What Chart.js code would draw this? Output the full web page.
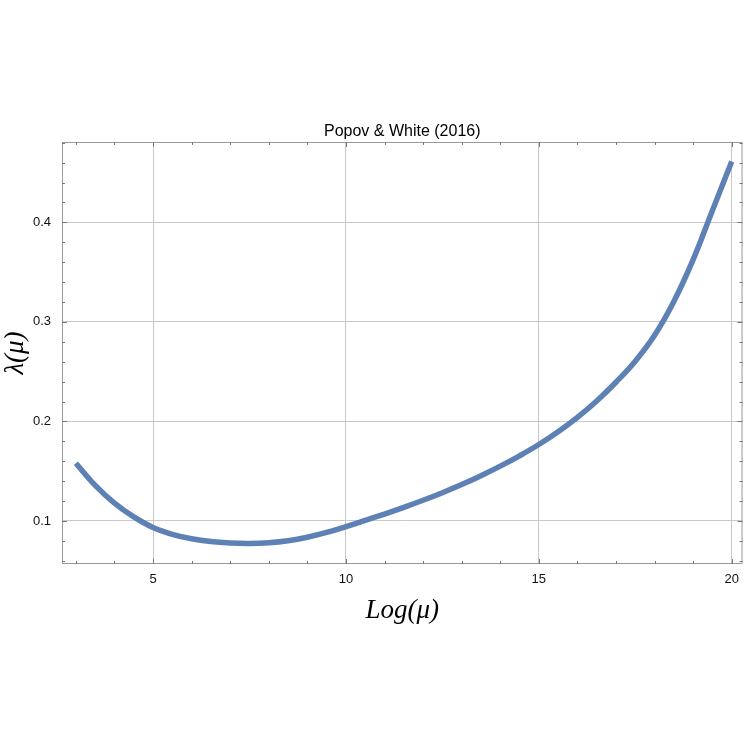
<!DOCTYPE html>
<html>
<head>
<meta charset="utf-8">
<script src="https://cdn.jsdelivr.net/npm/chart.js@4.4.1/dist/chart.umd.min.js"></script>
<style>
  html, body { margin: 0; padding: 0; background: #fff; }
  #wrap { width: 747px; height: 747px; }
</style>
</head>
<body>
<div id="wrap"><canvas id="chart"></canvas></div>
<script>
// values
const logMu = [3, 3.5, 4, 4.5, 5, 5.5, 6, 6.5, 7, 7.5, 8, 8.5, 9, 9.5, 10, 10.5, 11, 11.5, 12, 12.5,
    13, 13.5, 14, 14.5, 15, 15.5, 16, 16.5, 17, 17.5, 18, 18.5, 19, 19.5, 20];
const lambdaMu = [0.158, 0.1358, 0.1180, 0.1042, 0.0935, 0.0866, 0.0821, 0.0793, 0.0779, 0.0775,
    0.0782, 0.0802, 0.0837, 0.0885, 0.0943, 0.1006, 0.1070, 0.1137, 0.1208, 0.1284,
    0.1366, 0.1455, 0.1551, 0.1655, 0.1768, 0.1896, 0.2041, 0.2206, 0.2394, 0.2605,
    0.2865, 0.3205, 0.3625, 0.4120, 0.4610];
const xTicks = [5, 10, 15, 20];
const yTicks = [0.1, 0.2, 0.3, 0.4];
const xMinorTicks = [3, 4, 6, 7, 8, 9, 11, 12, 13, 14, 16, 17, 18, 19];
const yMinorTicks = [0.06, 0.08, 0.12, 0.14, 0.16, 0.18, 0.22, 0.24, 0.26, 0.28, 0.32, 0.34, 0.36, 0.38, 0.42, 0.44, 0.46, 0.48];
const chartTitle = 'Popov & White (2016)';

const X_MIN = 2.64, X_MAX = 20.28;
const Y_MIN = 0.0568, Y_MAX = 0.4807;

// frame around the plot with inward ticks on all four sides, title centred over the plot area
const framePlugin = {
    id: 'frame',
    afterDraw(chart) {
        const { ctx, chartArea: a, scales: { x, y } } = chart;
        ctx.save();
        ctx.strokeStyle = '#999';
        ctx.lineWidth = 1;
        ctx.strokeRect(a.left + 0.5, a.top + 0.5, a.right - a.left - 1, a.bottom - a.top - 1);
        ctx.strokeStyle = '#777';
        const tick = (v, len, horiz) => {
            ctx.beginPath();
            if (horiz) {
                const px = Math.round(x.getPixelForValue(v)) + 0.5;
                ctx.moveTo(px, a.bottom); ctx.lineTo(px, a.bottom - len);
                ctx.moveTo(px, a.top); ctx.lineTo(px, a.top + len);
            } else {
                const py = Math.round(y.getPixelForValue(v)) + 0.5;
                ctx.moveTo(a.left, py); ctx.lineTo(a.left + len, py);
                ctx.moveTo(a.right, py); ctx.lineTo(a.right - len, py);
            }
            ctx.stroke();
        };
        xTicks.forEach(v => tick(v, 5, true));
        xMinorTicks.forEach(v => tick(v, 3, true));
        yTicks.forEach(v => tick(v, 5, false));
        yMinorTicks.forEach(v => tick(v, 3, false));

        ctx.fillStyle = '#000';
        ctx.font = '16px "Liberation Sans"';
        ctx.textAlign = 'center';
        ctx.textBaseline = 'middle';
        ctx.fillText(chartTitle, (a.left + a.right) / 2, a.top - 10);
        ctx.restore();
    }
};

const points = logMu.map((v, i) => ({ x: v, y: lambdaMu[i] }));

new Chart(document.getElementById('chart'), {
    type: 'line',
    data: {
        datasets: [{
            data: points,
            borderColor: '#5e81b5',
            borderWidth: 5.5,
            borderCapStyle: 'butt',
            pointRadius: 0,
            tension: 0.4,
            fill: false
        }]
    },
    options: {
        responsive: true,
        maintainAspectRatio: false,
        animation: false,
        layout: { padding: { top: 142, left: 0, right: 3, bottom: 119.8 } },
        plugins: {
            legend: { display: false },
            tooltip: { enabled: false },
            title: { display: false }
        },
        scales: {
            x: {
                type: 'linear',
                min: X_MIN,
                max: X_MAX,
                afterBuildTicks: (scale) => { scale.ticks = xTicks.map(v => ({ value: v })); },
                afterFit: (scale) => { scale.height = 63.2; },
                border: { display: false },
                grid: { color: '#c8c8c8', lineWidth: 1, drawTicks: false },
                ticks: {
                    color: '#111',
                    padding: 8,
                    maxRotation: 0,
                    font: { family: 'Liberation Sans', size: 13 },
                    callback: (v) => String(v)
                },
                title: {
                    display: true,
                    text: 'Log(μ)',
                    color: '#000',
                    padding: 0,
                    font: { family: 'Liberation Serif', size: 27, style: 'italic' }
                }
            },
            y: {
                type: 'linear',
                min: Y_MIN,
                max: Y_MAX,
                afterBuildTicks: (scale) => { scale.ticks = yTicks.map(v => ({ value: v })); },
                afterFit: (scale) => { scale.width = 62; },
                border: { display: false },
                grid: { color: '#c8c8c8', lineWidth: 1, drawTicks: false },
                ticks: {
                    color: '#111',
                    padding: 11,
                    font: { family: 'Liberation Sans', size: 13 },
                    callback: (v) => String(Math.round(v * 10) / 10)
                },
                title: {
                    display: true,
                    text: 'λ(μ)',
                    color: '#000',
                    padding: 0,
                    font: { family: 'Liberation Serif', size: 27, style: 'italic' }
                }
            }
        }
    },
    plugins: [framePlugin]
});
</script>
</body>
</html>
